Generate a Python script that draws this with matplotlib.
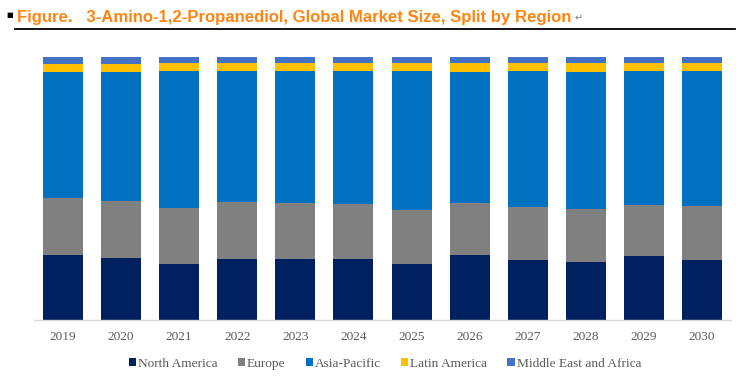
import numpy as np
import matplotlib
matplotlib.use("Agg")
import matplotlib.pyplot as plt

# ---- data (share of global market, %) ----
years = ["2019", "2020", "2021", "2022", "2023", "2024",
         "2025", "2026", "2027", "2028", "2029", "2030"]
north_america = [24.8, 23.5, 21.3, 23.2, 23.2, 23.2, 21.3, 24.7, 22.8, 22.0, 24.3, 22.8]
europe = [21.6, 21.6, 21.3, 21.6, 21.3, 20.9, 20.5, 19.7, 20.1, 20.1, 19.4, 20.5]
asia_pacific = [47.8, 49.1, 52.0, 49.8, 50.1, 50.5, 52.8, 49.8, 51.7, 52.1, 50.9, 51.3]
latin_america = [3.0, 3.0, 3.0, 3.0, 3.0, 3.0, 3.0, 3.4, 3.0, 3.4, 3.0, 3.0]
mea = [2.8, 2.8, 2.4, 2.4, 2.4, 2.4, 2.4, 2.4, 2.4, 2.4, 2.4, 2.4]

series = [
    ("North America", north_america, "#002060"),
    ("Europe", europe, "#808080"),
    ("Asia-Pacific", asia_pacific, "#0070C0"),
    ("Latin America", latin_america, "#FFC000"),
    ("Middle East and Africa", mea, "#4472C4"),
]

W, H = 736, 386
fig = plt.figure(figsize=(W / 100, H / 100), dpi=100)
ax = fig.add_axes([34 / W, 1 - 320 / H, (731 - 34) / W, (320 - 56.7) / H])

x = np.arange(len(years))
bottom = np.zeros(len(years))
for name, vals, col in series:
    ax.bar(x, vals, width=0.69, bottom=bottom, color=col, label=name, linewidth=0)
    bottom += np.array(vals)

ax.set_xlim(-0.5, len(years) - 0.5)
ax.set_ylim(0, 100)
ax.set_yticks([])
ax.set_xticks(x)
ax.set_xticklabels(years, fontfamily="Liberation Serif", fontsize=9.6, color="#595959")
ax.tick_params(axis="x", length=0, pad=8)
for s in ["top", "left", "right"]:
    ax.spines[s].set_visible(False)
ax.spines["bottom"].set_color("#d9d9d9")
ax.spines["bottom"].set_linewidth(1)

fig.legend(loc="center", bbox_to_anchor=(385 / W, 1 - 364 / H), ncol=5, frameon=False,
           prop={"family": "Liberation Serif", "size": 9.6}, labelcolor="#595959",
           handlelength=0.55, handleheight=0.55, handletextpad=0.15, columnspacing=1.5)

# ---- title block ----
fig.text(6.5 / W, 1 - 15 / H, "\u25A0", fontsize=5, color="black", va="center", ha="left")
title = fig.text(17 / W, 1 - 22 / H,
                 "Figure.   3-Amino-1,2-Propanediol, Global Market Size, Split by Region",
                 fontsize=12, fontweight="bold", color="#FF8410", va="baseline", ha="left",
                 fontfamily="Liberation Sans")
# squeeze title to the width it has in the reference (~555 px)
r = fig.canvas.get_renderer()
w = title.get_window_extent(r).width
title.set_fontsize(12 * 555 / w)
fig.text(575 / W, 1 - 18 / H, "\u21B5", fontsize=7, color="#808080", va="center", ha="left")
fig.add_artist(plt.Line2D([15 / W, 735 / W], [1 - 28.5 / H, 1 - 28.5 / H],
                          color="black", linewidth=1.3, transform=fig.transFigure))

fig.savefig("out.png", dpi=100)
